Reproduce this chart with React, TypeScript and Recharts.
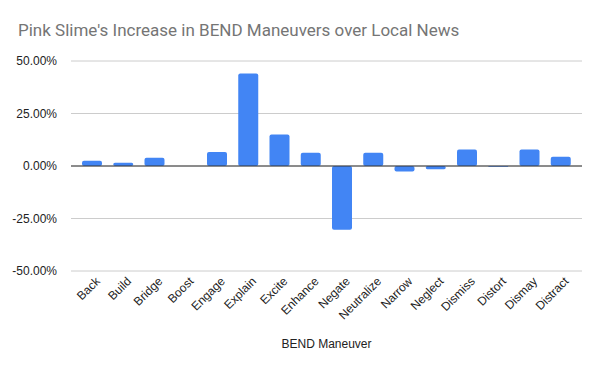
import {
  BarChart,
  Bar,
  XAxis,
  YAxis,
  CartesianGrid,
  ReferenceLine,
  Label,
} from 'recharts'

// BEND maneuvers, in chart order
const maneuvers = [
  'Back', 'Build', 'Bridge', 'Boost', 'Engage', 'Explain', 'Excite', 'Enhance',
  'Negate', 'Neutralize', 'Narrow', 'Neglect', 'Dismiss', 'Distort', 'Dismay', 'Distract',
]

// % increase of pink slime over local news
const increase = [
  2.5, 1.6, 3.9, 0, 6.7, 44.1, 15.0, 6.3,
  -30.3, 6.3, -2.6, -1.5, 7.8, -0.3, 7.8, 4.4,
]

const yTicks = [-50, -25, 0, 25, 50]

const data = maneuvers.map((name, i) => ({ name, value: increase[i] }))

const AXIS_FONT = 'Arial, "Liberation Sans", sans-serif'

function RotatedTick({ x, y, payload }: { x?: number; y?: number; payload?: { value: string } }) {
  return (
    <g transform={`translate(${(x ?? 0) + 9},${(y ?? 0) + 3})`}>
      <text
        transform="rotate(-45)"
        textAnchor="end"
        fill="#222"
        fontSize={12}
        fontFamily={AXIS_FONT}
      >
        {payload?.value}
      </text>
    </g>
  )
}

export default function App() {
  return (
    <div style={{ position: 'absolute', left: 0, top: 0, width: 600, height: 371, background: '#fff' }}>
      <div
        style={{
          position: 'absolute',
          left: 18,
          top: 20,
          fontFamily: 'Roboto, sans-serif',
          fontSize: 17,
          color: '#757575',
          whiteSpace: 'nowrap',
        }}
      >
        Pink Slime's Increase in BEND Maneuvers over Local News
      </div>
      <BarChart
        width={600}
        height={371}
        data={data}
        margin={{ top: 61, right: 18, left: 0, bottom: 0 }}
      >
        <CartesianGrid vertical={false} stroke="#ccc" />
        <XAxis
          dataKey="name"
          interval={0}
          height={100}
          axisLine={false}
          tickLine={false}
          padding={{ left: 5, right: 6 }}
          tick={<RotatedTick />}
        >
          <Label
            value="BEND Maneuver"
            position="insideBottom"
            offset={23}
            fill="#222"
            fontSize={12}
            fontFamily={AXIS_FONT}
          />
        </XAxis>
        <YAxis
          width={71}
          domain={[-50, 50]}
          ticks={yTicks}
          axisLine={false}
          tickLine={false}
          tickMargin={8}
          tickFormatter={(v: number) => `${v.toFixed(2)}%`}
          tick={{ fill: '#222', fontSize: 12, fontFamily: AXIS_FONT }}
        />
        <ReferenceLine y={0} stroke="#333" />
        <Bar dataKey="value" fill="#4285F4" barSize={20} radius={2} isAnimationActive={false} />
      </BarChart>
    </div>
  )
}
